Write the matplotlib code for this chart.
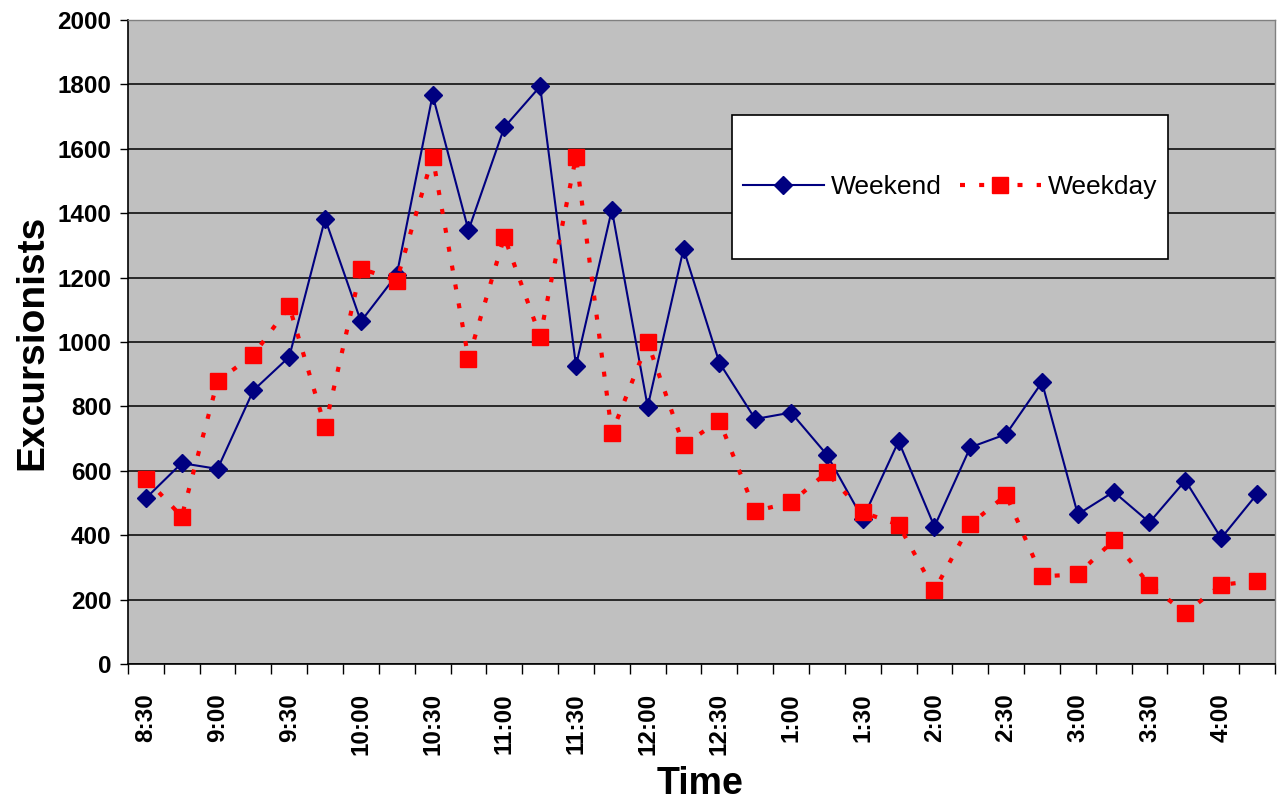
import matplotlib
matplotlib.use("Agg")
import matplotlib.pyplot as plt
from matplotlib.patches import Rectangle

plt.rcParams["font.family"] = ["Liberation Sans", "DejaVu Sans"]

# 时间（每15分钟一个点）
times = ['8:30', '8:45', '9:00', '9:15', '9:30', '9:45', '10:00', '10:15',
         '10:30', '10:45', '11:00', '11:15', '11:30', '11:45', '12:00', '12:15',
         '12:30', '12:45', '1:00', '1:15', '1:30', '1:45', '2:00', '2:15',
         '2:30', '2:45', '3:00', '3:15', '3:30', '3:45', '4:00', '4:15']
weekend = [515, 624, 606, 850, 954, 1383, 1064, 1209, 1767, 1347, 1667, 1794,
           927, 1411, 799, 1289, 936, 761, 781, 650, 451, 692, 427, 673,
           714, 875, 465, 535, 440, 570, 391, 528]
weekday = [576, 458, 879, 960, 1111, 737, 1228, 1191, 1576, 948, 1327, 1017,
           1576, 718, 999, 680, 756, 475, 502, 595, 471, 433, 229, 434,
           525, 272, 279, 384, 246, 159, 246, 259]

fig, ax = plt.subplots(figsize=(12.82, 8.02), dpi=100)
fig.subplots_adjust(left=0.0998, right=0.9945, top=0.975, bottom=0.172)

x = list(range(len(times)))
ax.set_facecolor('#c0c0c0')
ax.plot(x, weekend, color='#000080', lw=1.5, marker='D', ms=9.5,
        label='Weekend', zorder=2)
ax.plot(x, weekday, color='red', lw=3, ls=(0, (1.2, 3.4)), marker='s',
        ms=11.5, mec='red', label='Weekday', zorder=2.1)

ax.set_xlim(-0.5, len(times) - 0.5)
ax.set_ylim(0, 2000)
ax.set_yticks(range(0, 2001, 200))
ax.yaxis.grid(True, color='black', lw=1.1)
ax.set_axisbelow(True)

# 刻度线在类别之间，标签每隔一个
ax.set_xticks([i - 0.5 for i in range(len(times) + 1)])
ax.set_xticklabels([])
ax.set_xticks(x[::2], minor=True)
ax.set_xticklabels(times[::2], minor=True, rotation=90,
                   fontweight='bold', fontsize=17.5)
ax.tick_params(axis='x', which='major', length=7, width=1, color='black')
ax.tick_params(axis='x', which='minor', length=0, pad=21)
ax.tick_params(axis='y', length=6, width=1, pad=6, labelsize=17.5)
for lbl in ax.get_yticklabels():
    lbl.set_fontweight('bold')

ax.set_xlabel('Time', fontsize=27, fontweight='bold')
ax.xaxis.set_label_coords(0.4987, -0.158)
ax.set_ylabel('Excursionists', fontsize=28, fontweight='bold')
ax.yaxis.set_label_coords(-0.068, 0.5)

for s in ['left', 'bottom']:
    ax.spines[s].set_color('black')
    ax.spines[s].set_linewidth(1.2)
for s in ['top', 'right']:
    ax.spines[s].set_color('#808080')
    ax.spines[s].set_linewidth(1)

# 图例框
ax.add_patch(Rectangle((0.5266, 0.6289), 0.380, 0.2236, transform=ax.transAxes,
                       facecolor='white', edgecolor='black', lw=1.2, zorder=3))
leg = ax.legend(loc='center', bbox_to_anchor=(0.7166, 0.7407), ncol=2,
                frameon=False, fontsize=19, handlelength=3.07,
                handletextpad=0.27, columnspacing=0.68)
leg.set_zorder(5)

fig.savefig('out.png', dpi=100)
